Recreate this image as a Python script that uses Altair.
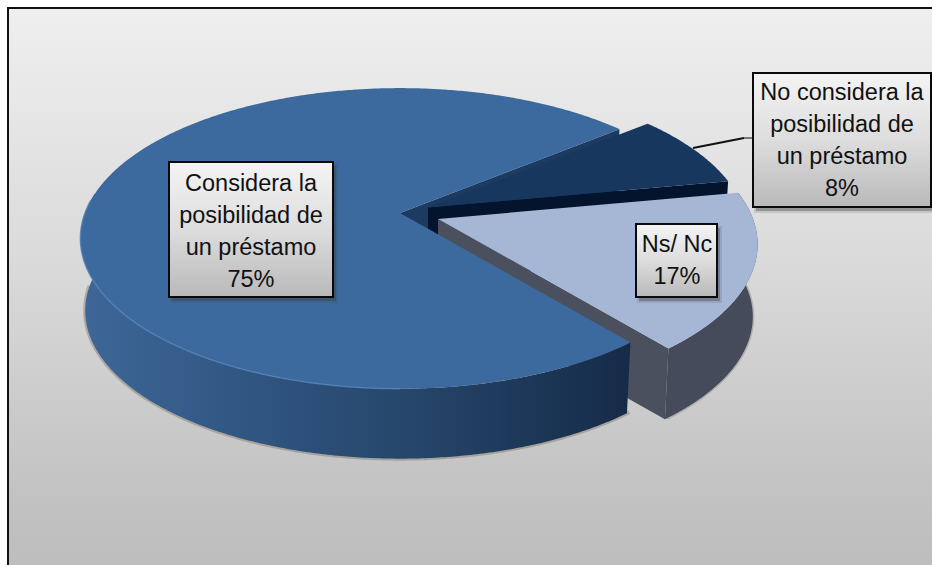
import math
import altair as alt
import pandas as pd

# Survey shares and their labels
categories = ["Considera la\nposibilidad de\nun préstamo", "No considera la\nposibilidad de\nun préstamo", "Ns/ Nc"]
values = [75, 8, 17]

# Pie placement on the canvas (pixels)
CX, CY = 400, 213
RX, RY, PERSP = 315, 146, 0.169
START = -39.5          # angle where the 75% slice ends, clockwise on screen
SHRINK, DEPTH = 0.985, 72.6
W, H = 932, 565

X = alt.X("x:Q", scale=alt.Scale(domain=[0, W], range=[0, W]), axis=None)
Y = alt.Y("y:Q", scale=alt.Scale(domain=[H, 0], range=[H, 0]), axis=None)


def rim(angle, off=(0, 0), low=False):
    a = math.radians(angle)
    d = 1 - PERSP * math.sin(a)
    x, y = RX * math.cos(a) / d, RY * math.sin(a) / d
    if low:
        x, y = x * SHRINK, y * SHRINK + DEPTH
    return CX + off[0] + x, CY + off[1] + y


def centre(off=(0, 0), low=False):
    return CX + off[0], CY + off[1] + (DEPTH if low else 0)


def arc(a0, a1, off=(0, 0), low=False):
    n = max(2, int(abs(a1 - a0)) * 2)
    return [rim(a0 + (a1 - a0) * i / n, off, low) for i in range(n + 1)]


def poly(points, fill, stroke=None, width=0):
    df = pd.DataFrame(points, columns=["x", "y"]).reset_index(names="i")
    kw = {"stroke": stroke, "strokeWidth": width} if stroke else {"strokeWidth": 0}
    return alt.Chart(df).mark_line(fill=fill, interpolate="linear-closed", **kw).encode(
        x=X, y=Y, order="i:Q"
    )


def path(points, color, width, opacity=1.0):
    df = pd.DataFrame(points, columns=["x", "y"]).reset_index(names="i")
    return alt.Chart(df).mark_line(color=color, strokeWidth=width, opacity=opacity).encode(
        x=X, y=Y, order="i:Q"
    )


def vgrad(stops, horizontal=False):
    return alt.Gradient(
        gradient="linear",
        x1=0, x2=1 if horizontal else 0, y1=0, y2=0 if horizontal else 1,
        stops=[alt.GradientStop(offset=o, color=c) for o, c in stops],
    )


def box(x0, y0, x1, y1, fill, **kw):
    df = pd.DataFrame({"x": [x0], "x2": [x1], "y": [y0], "y2": [y1]})
    return alt.Chart(df).mark_rect(fill=fill, **kw).encode(x=X, x2="x2:Q", y=Y, y2="y2:Q")


# Slice angles follow from the shares
sweep = [v / sum(values) * 360 for v in values]
main_end = START
dark_end = main_end + sweep[1]
light_end = dark_end + sweep[2]
main_start = light_end

DARK_OFF = (28, -5.5)
LIGHT_OFF = (38, 6)

layers = []

# Panel, open on the right and at the bottom
layers.append(box(8, 8, W + 6, H + 6, vgrad([(0, "#efefef"), (0.45, "#dadada"), (0.85, "#c3c3c3"), (1, "#bdbdbd")]),
                  stroke="#111111", strokeWidth=2))

# Soft edge under the disc
layers.append(path(arc(50, 180, low=True), "#7d7668", 4, 0.45))
layers.append(path(arc(-10, 50, LIGHT_OFF, low=True), "#8f8f88", 3, 0.5))

# Inner wall visible in the notch
layers.append(poly([centre(), rim(main_end), rim(main_end, low=True), centre(low=True)], "#1d3a60"))

# 8% slice, pulled out towards the back
layers.append(poly([centre(DARK_OFF), rim(dark_end, DARK_OFF), rim(dark_end, DARK_OFF, low=True), centre(DARK_OFF, low=True)], "#04142c"))
layers.append(poly([centre(DARK_OFF)] + arc(main_end, dark_end, DARK_OFF), "#17375e"))

# 17% slice, pulled out to the right
layers.append(poly([centre(LIGHT_OFF), rim(light_end, LIGHT_OFF), rim(light_end, LIGHT_OFF, low=True), centre(LIGHT_OFF, low=True)], "#4b505e"))
layers.append(poly(arc(dark_end, light_end, LIGHT_OFF) + arc(light_end, dark_end, LIGHT_OFF, low=True), "#454b5a"))
layers.append(poly([centre(LIGHT_OFF)] + arc(dark_end, light_end, LIGHT_OFF), "#a6b7d6"))

# 75% slice
layers.append(poly(arc(main_start, 188) + arc(188, main_start, low=True),
                   vgrad([(0, "#3e6798"), (0.3, "#305682"), (0.6, "#26466b"), (0.85, "#1b3555"), (1, "#162b48")], horizontal=True)))
layers.append(poly([centre()] + arc(main_start, 360 + main_end), "#3c6a9e"))
layers.append(path(arc(90, 185), "#5482b6", 1.5, 0.8))

# Leader line for the 8% label
layers.append(path([(693, 148), (744, 138)], "#111111", 2))
layers.append(path([(744, 138), (753, 138)], "#777777", 2))

# Label boxes
label_boxes = [(169, 162, 333, 297), (753, 73, 931, 207), (636, 224, 717, 297)]
for (x0, y0, x1, y1) in label_boxes:
    layers.append(box(x0 + 3, y0 + 4, x1 + 3, y1 + 4, "#3a3a3a", opacity=0.35))
    layers.append(box(x0 + 1, y0 + 2, x1 + 5, y1 + 6, "#3a3a3a", opacity=0.15))
    layers.append(box(x0, y0, x1, y1, vgrad([(0, "#f4f4f4"), (0.5, "#dddddd"), (1, "#b9b9b9")]),
                      stroke="#0a0a0a", strokeWidth=2))

# Anchor of each label's first line
anchors = [(251, 184), (842, 93), (677, 245)]
labels = pd.DataFrame({
    "x": [c[0] for c in anchors],
    "y": [c[1] for c in anchors],
    "t": [f"{c}\n{v}%" for c, v in zip(categories, values)],
})
layers.append(
    alt.Chart(labels).mark_text(
        font="Liberation Sans", fontSize=23.5, color="#111111", lineBreak="\n",
        lineHeight=32, align="center", baseline="middle",
    ).encode(x=X, y=Y, text="t:N")
)

chart = (
    alt.layer(*layers)
    .properties(width=W, height=H, padding=0, background="white")
    .configure_view(stroke=None)
)
chart.autosize = alt.AutoSizeParams(type="none")
chart.save("out.html", embed_options={"renderer": "svg", "actions": False})
